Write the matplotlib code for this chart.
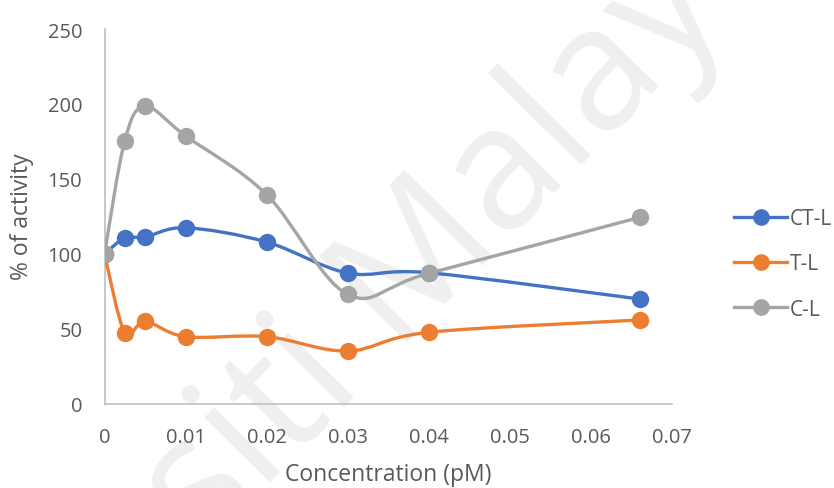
import numpy as np
import matplotlib
matplotlib.use("Agg")
import matplotlib.pyplot as plt
from matplotlib.path import Path
from matplotlib.patches import PathPatch
from matplotlib.lines import Line2D
from matplotlib.font_manager import FontProperties

plt.rcParams['font.family'] = ['Open Sans', 'DejaVu Sans']

# ---- data ----
concentration = [0, 0.0025, 0.005, 0.01, 0.02, 0.03, 0.04, 0.066]
ct_l = [100, 110.7, 111.3, 117.5, 108, 87.3, 87.5, 70]
t_l = [100, 47.6, 55.1, 44.9, 44.9, 35.3, 47.8, 56]
c_l = [100, 175.5, 198.4, 178.7, 139.6, 73.1, 87.1, 124.4]
series_names = ['CT-L', 'T-L', 'C-L']
series_colors = ['#4472C4', '#ED7D31', '#A5A5A5']
xticks = [0, 0.01, 0.02, 0.03, 0.04, 0.05, 0.06, 0.07]
xtick_labels = ['0', '0.01', '0.02', '0.03', '0.04', '0.05', '0.06', '0.07']
yticks = [0, 50, 100, 150, 200, 250]
watermark = 'Universiti Malaya'

TEXT = '#595959'

W, H = 834, 489
fig = plt.figure(figsize=(W / 100, H / 100), dpi=100)
ax = fig.add_axes([104.5 / W, 1 - 405 / H, (672 - 104.5) / W, (405 - 30) / H])
ax.set_facecolor('none')

# watermark: place so the first "a" of "Malaya" sits where it is in the reference
wm_size = 124
wm_angle = 45.5
wm_prop = FontProperties(family=['Open Sans'], size=wm_size)
renderer = fig.canvas.get_renderer()
w_pre, _, _ = renderer.get_text_width_height_descent('Universiti M', wm_prop, ismath=False)
w_a, _, _ = renderer.get_text_width_height_descent('a', wm_prop, ismath=False)
d = w_pre + w_a / 2.0
th = np.deg2rad(wm_angle)
ux, uy = np.cos(th), -np.sin(th)          # baseline direction (screen, y down)
bx, by = 538.0, 210.0                      # baseline point under first "a"
ax0, ay0 = bx - ux * d, by - uy * d
fig.text(ax0 / W, 1 - ay0 / H, watermark, rotation=wm_angle, rotation_mode='anchor',
         ha='left', va='baseline', fontproperties=wm_prop, color='#efefef', zorder=-10)


def smooth_path(xs, ys):
    """Excel-like smoothed line (Catmull-Rom as cubic Bezier)."""
    p = np.column_stack([xs, ys]).astype(float)
    n = len(p)
    verts = [p[0]]
    codes = [Path.MOVETO]
    for i in range(n - 1):
        p0 = p[i - 1] if i > 0 else p[i]
        p1 = p[i]
        p2 = p[i + 1]
        p3 = p[i + 2] if i + 2 < n else p[i + 1]
        c1 = p1 + (p2 - p0) / 6.0
        c2 = p2 - (p3 - p1) / 6.0
        verts += [c1, c2, p2]
        codes += [Path.CURVE4] * 3
    return Path(verts, codes)


handles = []
for name, vals, col in zip(series_names, [ct_l, t_l, c_l], series_colors):
    patch = PathPatch(smooth_path(concentration, vals), facecolor='none', edgecolor=col,
                      lw=2.4, capstyle='round', joinstyle='round', zorder=3)
    ax.add_patch(patch)
    ax.plot(concentration, vals, 'o', color=col, markersize=11.5, zorder=4)
    handles.append(Line2D([0], [0], color=col, lw=2.4, marker='o', markersize=11))

ax.set_xlim(0, 0.07)
ax.set_ylim(0, 250)
ax.set_xticks(xticks)
ax.set_xticklabels(xtick_labels)
ax.set_yticks(yticks)
for s in ['top', 'right']:
    ax.spines[s].set_visible(False)
for s in ['left', 'bottom']:
    ax.spines[s].set_color('#BFBFBF')
    ax.spines[s].set_linewidth(1.2)
ax.tick_params(axis='both', length=0, labelsize=14.5, labelcolor=TEXT)
ax.tick_params(axis='x', pad=16.5)
ax.tick_params(axis='y', pad=16)

fig.text(22 / W, 1 - 217 / H, '% of activity', rotation=90, ha='center', va='center',
         fontsize=16.5, color=TEXT)
fig.text(388 / W, 1 - 475 / H, 'Concentration (pM)', ha='center', va='center',
         fontsize=16.5, color=TEXT)

leg = fig.legend(handles, series_names, loc='center left',
                 bbox_to_anchor=(734 / W, 1 - 265 / H), frameon=False,
                 fontsize=15, labelcolor=TEXT, handlelength=2.55, handletextpad=0.12,
                 labelspacing=1.16, borderaxespad=0, borderpad=0)

fig.savefig('out.png', dpi=100)
